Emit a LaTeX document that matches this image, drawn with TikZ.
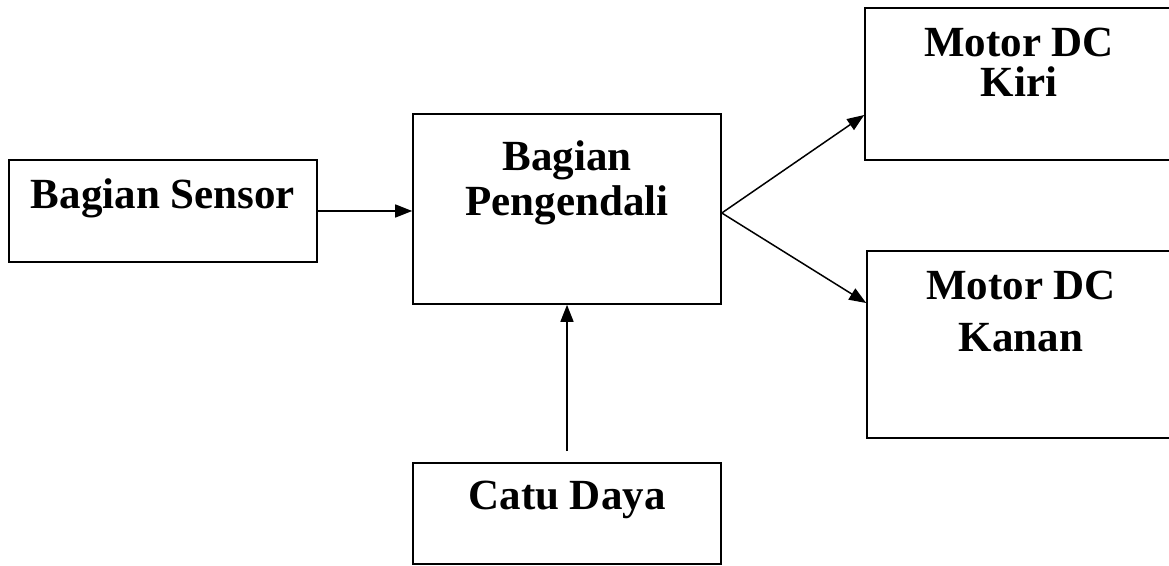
\documentclass[tikz,border=0pt]{standalone}
\usepackage{fontspec}
\setmainfont{Liberation Serif}
\usetikzlibrary{arrows.meta}

\tikzset{
	kotak/.style={draw=black, line width=1.6pt, minimum width=308pt, inner sep=0pt},
	teks/.style={font=\bfseries\fontsize{43}{45}\selectfont, align=center, inner sep=0pt, anchor=north},
	panah/.style={line width=1.5pt, -{Triangle[length=17pt,width=13pt]}}
}

\begin{document}
\begin{tikzpicture}[x=1pt, y=1pt]
				\useasboundingbox (0,0) rectangle (1169,565);
				%Kotak
				\node[kotak, minimum height=102pt] (sensor) at (163,354) {};
				\node[kotak, minimum height=190pt] (kendali) at (567,356) {};
				\node[kotak, minimum height=152pt] (kiri) at (1019,481) {};
				\node[kotak, minimum height=187pt] (kanan) at (1021,220.5) {};
				\node[kotak, minimum height=101pt] (catu) at (567,51.5) {};
				%Teks
				\node[teks] (sensorT) at ([yshift=-19pt]sensor.north) {Bagian Sensor};
				\node[teks] (kendaliT) at ([yshift=-27pt]kendali.north) {Bagian\\[0pt]Pengendali};
				\node[teks] (kiriT) at ([yshift=-21pt]kiri.north) {Motor DC\\[-5pt]Kiri};
				\node[teks] (kananT) at ([yshift=-21pt]kanan.north) {Motor DC\\[7pt]Kanan};
				\node[teks] (catuT) at ([yshift=-19pt]catu.north) {Catu Daya};
				%Panah
				\draw[panah] (sensor.east) -- (sensor.east -| kendali.west);
				\draw[panah, shorten <=11pt] (catu.north) -- (kendali.south);
				\draw[panah] ([yshift=-4pt]kendali.east) -- ([yshift=-31pt]kiri.west);
				\draw[panah] ([yshift=-4pt]kendali.east) -- ([yshift=41.5pt]kanan.west);
\end{tikzpicture}
\end{document}
